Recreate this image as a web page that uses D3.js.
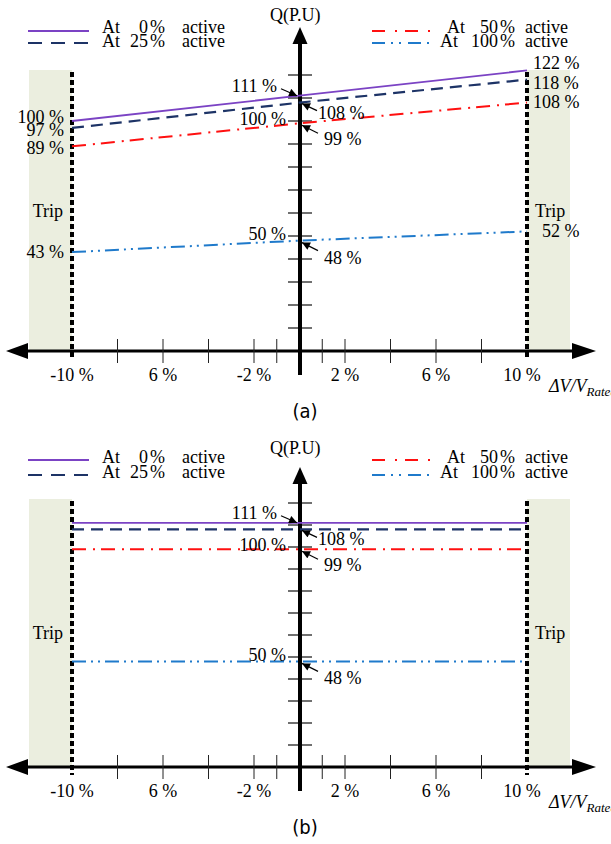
<!DOCTYPE html>
<html>
<head>
<meta charset="utf-8">
<script src="https://cdnjs.cloudflare.com/ajax/libs/d3/7.8.5/d3.min.js"></script>
<style>
  body { margin: 0; background: #fff; }
  svg { display: block; }
  text { font-family: "Liberation Serif", "Times New Roman", serif; fill: #000; }
</style>
</head>
<body>
<svg id="chart" width="611" height="844"></svg>
<script>
// ---- data ----
const xPts = [-10, 0, 10]
const legendNums = ["0", "25", "50", "100"]

// panel (a): Q vs dV
const qa0 = [100, 111, 122]
const qa25 = [97, 108, 118]
const qa50 = [89, 99, 108]
const qa100 = [43, 48, 52]

// panel (b): constant Q
const qb0 = [111, 111, 111]
const qb25 = [108, 108, 108]
const qb50 = [99, 99, 99]
const qb100 = [48, 48, 48]

const yTickVals = [10, 20, 30, 40, 50, 60, 70, 80, 90, 100, 110, 120]
const yMarked = [100, 50]
const xTickVals = [-8, -6, -4, -2, -1, 1, 2, 4, 6, 8]
const xLabelVals = [-10, -6, -2, 2, 6, 10]
const xLabelTexts = ["-10 %", "6 %", "-2 %", "2 %", "6 %", "10 %"]
const tripLimits = [-10, 10]

const styles = [
    {color: "#7b43c4", dash: null, w: 1.8},
    {color: "#1d3366", dash: "12,7", w: 2.2},
    {color: "#ff1010", dash: "14,7,2,6", w: 2},
    {color: "#1f7acb", dash: "14,5,2,5,2,5", w: 2}
]

const svg = d3.select("#chart")
const fs = 18

svg.append("defs").append("marker")
    .attr("id", "ah")
    .attr("viewBox", "0 0 10 10")
    .attr("refX", 10).attr("refY", 5)
    .attr("markerWidth", 9).attr("markerHeight", 8)
    .attr("markerUnits", "userSpaceOnUse")
    .attr("orient", "auto")
    .append("path").attr("d", "M0,0L10,5L0,10Z").attr("fill", "#000")

const x = d3.scaleLinear().domain([-10, 10]).range([72, 527])
const xAxisX = x(0) + 0.5

const panels = [
    {series: [qa0, qa25, qa50, qa100], axisY: 351, k: 2.3, shadeTop: 70, tip: 27, qBase: 21,
     legY: [31, 43], legText: [33, 47], caption: "(a)", sideLabels: true},
    {series: [qb0, qb25, qb50, qb100], axisY: 767, k: 2.2, shadeTop: 499, tip: 467, qBase: 454,
     legY: [460, 475], legText: [463, 478], caption: "(b)", sideLabels: false}
]

panels.forEach(p => {
    const g = svg.append("g")
    const y = d3.scaleLinear().domain([0, 100]).range([p.axisY, p.axisY - 100 * p.k])

    // trip zones
    g.append("rect").attr("x", 29).attr("y", p.shadeTop)
        .attr("width", x(-10) - 29).attr("height", p.axisY - p.shadeTop).attr("fill", "#ebeedf")
    g.append("rect").attr("x", x(10)).attr("y", p.shadeTop)
        .attr("width", 570 - x(10)).attr("height", p.axisY - p.shadeTop).attr("fill", "#ebeedf")
    const tripY = p.shadeTop + (p.axisY - p.shadeTop) * 0.5 + 6
    g.append("text").attr("x", 63).attr("y", tripY).attr("text-anchor", "end")
        .attr("font-size", fs).text("Trip")
    g.append("text").attr("x", 535).attr("y", tripY).attr("font-size", fs).text("Trip")

    // x axis line + arrows
    g.append("line").attr("x1", 20).attr("x2", 580).attr("y1", p.axisY).attr("y2", p.axisY)
        .attr("stroke", "#000").attr("stroke-width", 3)
    g.append("path").attr("d", `M6,${p.axisY}L28,${p.axisY - 8}L28,${p.axisY + 8}Z`).attr("fill", "#000")
    g.append("path").attr("d", `M596,${p.axisY}L572,${p.axisY - 8}L572,${p.axisY + 8}Z`).attr("fill", "#000")

    g.selectAll(".xt").data(xTickVals).join("line")
        .attr("x1", d => x(d)).attr("x2", d => x(d))
        .attr("y1", p.axisY - 12).attr("y2", p.axisY + 12)
        .attr("stroke", "#222").attr("stroke-width", 1)

    g.selectAll(".xl").data(xLabelVals).join("text")
        .attr("x", (d, i) => x(d) - (i == xLabelVals.length - 1 ? 5 : 0))
        .attr("y", p.axisY + 30)
        .attr("text-anchor", "middle").attr("font-size", fs)
        .text((d, i) => xLabelTexts[i])

    const dv = g.append("text").attr("x", 549).attr("y", p.axisY + 41)
        .attr("font-style", "italic").attr("font-size", 18)
    dv.append("tspan").text("\u0394V/V")
    dv.append("tspan").attr("font-size", 13).attr("dy", 4).text("Rated")

    // y axis
    g.selectAll(".yt").data(yTickVals).join("line")
        .attr("x1", xAxisX - 12).attr("x2", xAxisX + 12)
        .attr("y1", d => y(d)).attr("y2", d => y(d))
        .attr("stroke", "#222").attr("stroke-width", 1.3)
    g.append("line").attr("x1", xAxisX).attr("x2", xAxisX)
        .attr("y1", p.tip + 12).attr("y2", p.axisY + 24)
        .attr("stroke", "#000").attr("stroke-width", 4)
    g.append("path")
        .attr("d", `M${xAxisX},${p.tip}L${xAxisX - 7.5},${p.tip + 17}L${xAxisX + 7.5},${p.tip + 17}Z`)
        .attr("fill", "#000")
    g.append("text").attr("x", 270).attr("y", p.qBase).attr("font-size", fs).text("Q(P.U)")

    // trip boundaries
    tripLimits.forEach(v => {
        g.append("line").attr("x1", x(v)).attr("x2", x(v))
            .attr("y1", p.shadeTop + 2).attr("y2", p.axisY + 8)
            .attr("stroke", "#000").attr("stroke-width", 4).attr("stroke-dasharray", "5,3")
    })

    // series lines
    const line = d3.line().x((d, i) => x(xPts[i])).y(d => y(d))
    p.series.forEach((s, i) => {
        g.append("path").datum(s).attr("d", line)
            .attr("fill", "none").attr("stroke", styles[i].color)
            .attr("stroke-width", styles[i].w)
            .attr("stroke-dasharray", styles[i].dash)
    })

    // legend
    const legX = [[28, 89], [28, 89], [372, 430], [372, 430]]
    const atX = [102, 102, 447, 440]
    const numEnd = [148, 148, 498, 498]
    const pctX = [150, 150, 500, 500]
    const actX = [182, 182, 525, 525]
    legendNums.forEach((n, i) => {
        const row = i % 2
        g.append("line").attr("x1", legX[i][0]).attr("x2", legX[i][1])
            .attr("y1", p.legY[row]).attr("y2", p.legY[row])
            .attr("stroke", styles[i].color).attr("stroke-width", 2.2)
            .attr("stroke-dasharray", i == 1 ? "14,9" : i == 2 ? "13,10,2,8" : i == 3 ? "13,6,2,6,2,7" : null)
        const ty = p.legText[row]
        g.append("text").attr("x", atX[i]).attr("y", ty).attr("font-size", fs).text("At")
        g.append("text").attr("x", numEnd[i]).attr("y", ty).attr("text-anchor", "end").attr("font-size", fs).text(n)
        g.append("text").attr("x", pctX[i]).attr("y", ty).attr("font-size", fs).text("%")
        g.append("text").attr("x", actX[i]).attr("y", ty).attr("font-size", fs).text("active")
    })

    // centre annotations (value at dV = 0)
    const mid = p.series.map(s => s[1])
    const ann = [
        {v: mid[0], side: "l", ty: -10, a: [281, -7, 297, 0]},
        {v: mid[1], side: "r", ty: 10, a: [317, 8, 302, 1]},
        {v: mid[2], side: "r", ty: 16, a: [318, 10, 302, 2]},
        {v: mid[3], side: "r", ty: 17, a: [318, 10, 302, 2]}
    ]
    ann.forEach(d => {
        const yy = y(d.v)
        g.append("text")
            .attr("x", d.side == "l" ? 277 : (d.v >= 100 ? 318 : 324))
            .attr("y", yy + d.ty + 6)
            .attr("text-anchor", d.side == "l" ? "end" : "start")
            .attr("font-size", fs).text(`${d.v} %`)
        g.append("line").attr("x1", d.a[0]).attr("y1", yy + d.a[1])
            .attr("x2", d.a[2]).attr("y2", yy + d.a[3])
            .attr("stroke", "#000").attr("stroke-width", 1.2).attr("marker-end", "url(#ah)")
    })
    yMarked.forEach(v => {
        g.append("text").attr("x", 286).attr("y", y(v) + 4)
            .attr("text-anchor", "end").attr("font-size", fs).text(`${v} %`)
    })

    // side labels (panel a only)
    if (p.sideLabels) {
        const leftDy = [-4, 2, 2, 0]
        const rightDy = [-7, 3, -1, 0]
        p.series.forEach((s, i) => {
            g.append("text").attr("x", 64).attr("y", y(s[0]) + leftDy[i] + 6)
                .attr("text-anchor", "end").attr("font-size", fs).text(`${s[0]} %`)
            g.append("text").attr("x", i == 3 ? 542 : 533).attr("y", y(s[2]) + rightDy[i] + 6)
                .attr("font-size", fs).text(`${s[2]} %`)
        })
    }

    g.append("text").attr("x", 305).attr("y", p.axisY + 67)
        .attr("text-anchor", "middle").attr("font-size", 20)
        .style("font-family", "'DejaVu Sans Condensed', 'DejaVu Sans', sans-serif")
        .style("font-weight", 300)
        .text(p.caption)
})
</script>
</body>
</html>
